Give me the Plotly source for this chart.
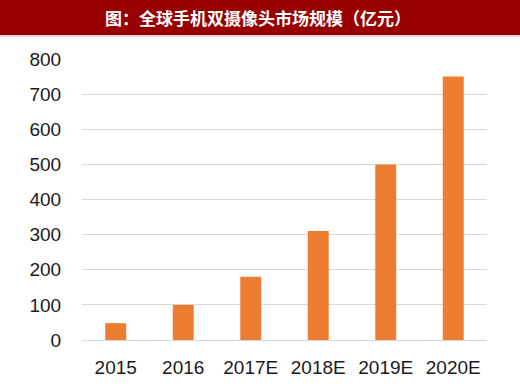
import plotly.graph_objects as go

categories = ["2015", "2016", "2017E", "2018E", "2019E", "2020E"]
values = [48, 100, 180, 310, 500, 750]
title_text = "图：全球手机双摄像头市场规模（亿元）"

W, H = 520, 386
L, R, T, B = 82, 33, 59, 46
ph = H - T - B
pw = W - L - R

fig = go.Figure(go.Bar(x=categories, y=values, marker=dict(color="#ED7D31", line=dict(width=0))))

fig.update_layout(
    width=W, height=H,
    margin=dict(l=L, r=R, t=T, b=B),
    paper_bgcolor="white", plot_bgcolor="white",
    bargap=0.69,
    showlegend=False,
    font=dict(family="Liberation Sans, Arial, sans-serif", size=19, color="#1a1a1a"),
)
fig.update_yaxes(range=[0, 800], dtick=100, showgrid=True, gridcolor="#d9d9d9", gridwidth=1,
                 zeroline=True, zerolinecolor="#d9d9d9", zerolinewidth=1, automargin=False,
                 showline=False, ticks="outside", ticklen=16, tickcolor="rgba(0,0,0,0)")
fig.update_xaxes(type="category", showline=False, showgrid=False, automargin=False,
                 ticks="outside", ticklen=10, tickcolor="rgba(0,0,0,0)")

# title bar
fig.add_shape(type="rect", xref="paper", yref="paper",
              x0=-L / pw, x1=(W - L) / pw,
              y0=1 + (T - 35) / ph, y1=1 + T / ph,
              fillcolor="#990000", line=dict(width=0), layer="above")
fig.add_shape(type="rect", xref="paper", yref="paper",
              x0=-L / pw, x1=(W - L) / pw,
              y0=1 + (T - 37) / ph, y1=1 + (T - 35) / ph,
              fillcolor="#f3d9d9", line=dict(width=0), layer="above")
fig.add_annotation(text="<b>" + title_text + "</b>", xref="paper", yref="paper",
                   x=(258 - L) / pw, y=1 + (T - 17.5) / ph, xanchor="center", yanchor="middle",
                   showarrow=False,
                   font=dict(family="Noto Sans CJK SC", size=17, color="white"))

fig.write_html("out.html", config={"displayModeBar": False},
               post_script="document.body.style.margin='0';document.body.style.overflow='hidden';")
